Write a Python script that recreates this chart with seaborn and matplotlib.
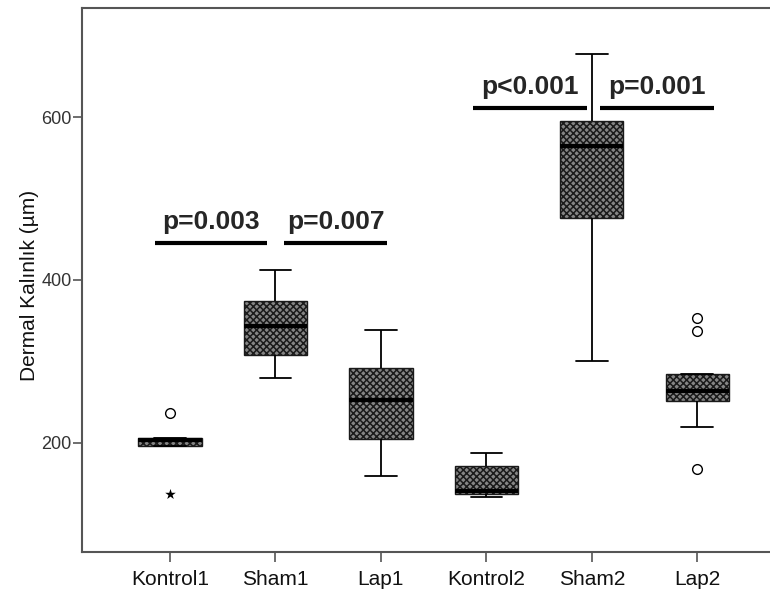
import numpy as np
import pandas as pd
import matplotlib
matplotlib.use("Agg")
import matplotlib.pyplot as plt
import seaborn as sns

# gruplar ve kutu istatistikleri
groups = ["Kontrol1", "Sham1", "Lap1", "Kontrol2", "Sham2", "Lap2"]
whisker_low = [196, 280, 159, 133, 301, 219]
q1 = [196, 308, 205, 137, 476, 252]
median = [204, 343, 253, 141, 565, 264]
q3 = [206, 374, 292, 172, 595, 284]
whisker_high = [206, 412, 338, 187, 678, 284]

# aykiri degerler (daire) ve uc degerler (yildiz)
outlier_group = ["Kontrol1", "Lap2", "Lap2", "Lap2"]
outlier_value = [237, 168, 337, 353]
extreme_group = ["Kontrol1"]
extreme_value = [137]

# p degerleri: etiket, cizgi baslangic, cizgi bitis, y
comparisons = [
    ("p=0.003", -0.14, 0.92, 445),
    ("p=0.007", 1.08, 2.06, 445),
    ("p<0.001", 2.87, 3.95, 611),
    ("p=0.001", 4.08, 5.16, 611),
]


def build_frame():
    """Kutu istatistiklerini veren gozlem tablosu"""
    rows = []
    for i, g in enumerate(groups):
        vals = [whisker_low[i]] + [q1[i]] * 20 + [median[i]] * 20 + [q3[i]] * 20 + [whisker_high[i]]
        rows += [(g, v) for v in vals]
    for g, v in zip(outlier_group + extreme_group, outlier_value + extreme_value):
        rows.append((g, v))
    return pd.DataFrame(rows, columns=["grup", "kalinlik"])


df = build_frame()

sns.set_theme(style="white")
plt.rcParams['font.family'] = ['Liberation Sans', 'DejaVu Sans']
plt.rcParams['hatch.linewidth'] = 1.1

fig = plt.figure(figsize=(7.7, 5.94), dpi=100)
ax = fig.add_axes([82 / 770, 42 / 594, 688 / 770, 544 / 594])

sns.boxplot(data=df, x="grup", y="kalinlik", order=groups, width=0.6,
            color="#858585", saturation=1, linecolor="black", linewidth=1.0,
            showfliers=False,
            medianprops=dict(linewidth=3, color="black"),
            whiskerprops=dict(linewidth=1.3),
            capprops=dict(linewidth=1.3),
            ax=ax)
for p in ax.patches:
    p.set_hatch("xxxxx")
    p.set_edgecolor("#1a1a1a")

sns.stripplot(x=outlier_group, y=outlier_value, order=groups, jitter=False,
              marker="o", size=7, color="white", edgecolor="black",
              linewidth=1.0, ax=ax)
sns.stripplot(x=extreme_group, y=extreme_value, order=groups, jitter=False,
              marker="*", size=8, color="black", linewidth=0, ax=ax)

for label, x0, x1, y in comparisons:
    ax.plot([x0, x1], [y, y], color="black", linewidth=3, solid_capstyle="butt")
    ax.annotate(label, xy=((x0 + x1) / 2, y), xytext=(0, 10.5),
                textcoords="offset points", ha="center", va="baseline",
                fontsize=19, fontweight="bold")

ax.set_xlim(-0.835, 5.69)
ax.set_ylim(66, 734)
ax.set_yticks([200, 400, 600])
ax.set_xlabel("")
ax.set_ylabel("Dermal Kalınlık (µm)", fontsize=15, color="#111111")
ax.yaxis.set_label_coords(-0.062, 0.49)

ax.tick_params(axis="x", bottom=True, length=7, width=1.2, color="#555555",
               labelsize=15, pad=6, labelcolor="#111111")
ax.tick_params(axis="y", left=True, length=6.5, width=1.2, color="#555555",
               labelsize=13, pad=1, labelcolor="#333333")

for s in ["top", "left", "bottom"]:
    ax.spines[s].set_color("#555555")
    ax.spines[s].set_linewidth(1.5)
ax.spines["right"].set_visible(False)

fig.savefig("out.png", dpi=100)
